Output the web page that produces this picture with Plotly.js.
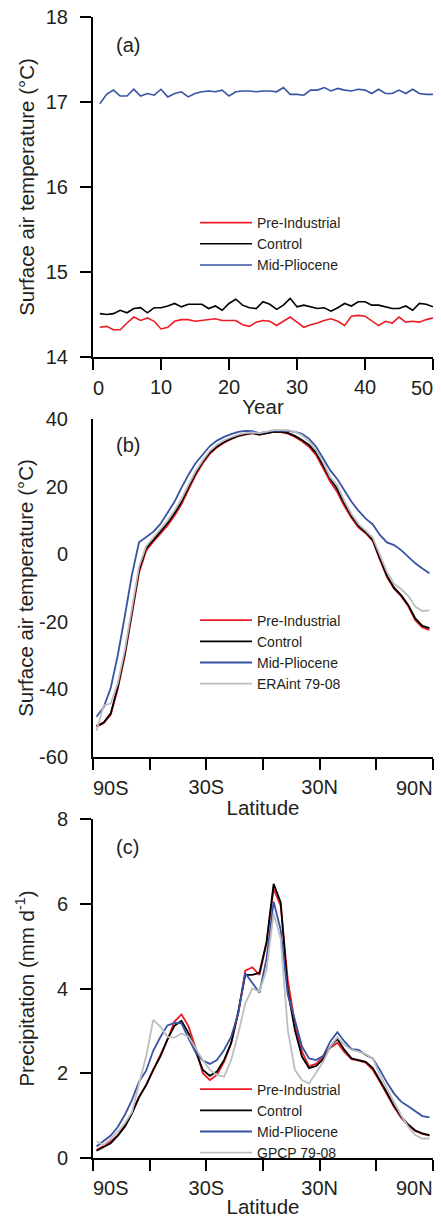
<!DOCTYPE html>
<html><head><meta charset="utf-8">
<script src="https://cdn.plot.ly/plotly-3.0.1.min.js"></script>
<style>html,body{margin:0;padding:0;background:#fff}</style>
</head><body><div id="chart" style="width:441px;height:1218px"></div>
<script>
// ---------- Panel (a): global mean surface air temperature time series ----------
const years = [1,2,3,4,5,6,7,8,9,10,11,12,13,14,15,16,17,18,19,20,21,22,23,24,25,26,27,28,29,30,31,32,33,34,35,36,37,38,39,40,41,42,43,44,45,46,47,48,49,50];
const tsPreIndustrial = [14.35,14.36,14.32,14.32,14.40,14.47,14.43,14.46,14.42,14.33,14.35,14.42,14.44,14.44,14.42,14.43,14.44,14.45,14.43,14.43,14.43,14.38,14.36,14.41,14.43,14.42,14.37,14.42,14.47,14.41,14.35,14.38,14.40,14.43,14.45,14.42,14.37,14.48,14.49,14.48,14.42,14.37,14.42,14.40,14.47,14.41,14.42,14.41,14.44,14.46];
const tsControl = [14.51,14.50,14.51,14.55,14.52,14.57,14.58,14.52,14.58,14.58,14.60,14.63,14.59,14.62,14.62,14.62,14.57,14.60,14.55,14.63,14.68,14.61,14.58,14.57,14.65,14.62,14.56,14.61,14.69,14.59,14.61,14.59,14.57,14.58,14.54,14.58,14.63,14.60,14.65,14.65,14.61,14.61,14.59,14.57,14.57,14.60,14.55,14.63,14.62,14.59];
const tsMidPliocene = [16.98,17.09,17.14,17.07,17.07,17.15,17.07,17.10,17.08,17.15,17.06,17.10,17.12,17.06,17.10,17.12,17.13,17.12,17.14,17.07,17.12,17.13,17.13,17.12,17.13,17.13,17.12,17.17,17.09,17.09,17.08,17.14,17.14,17.17,17.13,17.16,17.14,17.13,17.15,17.14,17.10,17.15,17.10,17.10,17.14,17.10,17.15,17.10,17.09,17.09];

// ---------- Panels (b) and (c): zonal means ----------
const latitudes = [-88.125,-84.375,-80.625,-76.875,-73.125,-69.375,-65.625,-61.875,-58.125,-54.375,-50.625,-46.875,-43.125,-39.375,-35.625,-31.875,-28.125,-24.375,-20.625,-16.875,-13.125,-9.375,-5.625,-1.875,1.875,5.625,9.375,13.125,16.875,20.625,24.375,28.125,31.875,35.625,39.375,43.125,46.875,50.625,54.375,58.125,61.875,65.625,69.375,73.125,76.875,80.625,84.375,88.125];

const tasPreIndustrial = [-51.0,-50.0,-47.5,-39.8,-30.0,-18.3,-5.5,1.0,3.7,6.0,8.4,11.4,14.8,19.2,23.4,26.9,29.7,31.6,33.0,34.0,34.9,35.4,35.8,35.4,35.9,36.2,36.1,35.7,34.7,33.4,31.8,29.3,25.4,21.4,18.3,14.2,10.7,7.9,6.2,3.9,-1.6,-6.8,-10.2,-12.4,-15.4,-19.5,-21.7,-22.4];
const tasControl = [-50.8,-49.8,-47.1,-39.2,-29.3,-17.5,-4.7,1.7,4.2,6.7,9.1,12.1,15.5,19.9,24.0,27.4,30.1,31.9,33.2,34.2,35.0,35.5,35.8,35.4,35.9,36.2,36.2,35.9,35.0,33.8,32.3,30.0,26.2,22.3,19.2,15.0,11.3,8.3,6.5,4.2,-1.2,-6.4,-9.9,-12.1,-15.0,-19.0,-21.2,-21.9];
const tasMidPliocene = [-48.1,-45.3,-39.6,-29.9,-18.2,-6.0,3.5,5.0,6.6,8.9,12.3,15.5,19.7,23.6,27.0,29.6,32.0,33.6,34.7,35.5,36.2,36.5,36.4,35.8,36.2,36.5,36.5,36.5,36.2,35.6,34.2,31.8,28.3,24.8,22.2,18.9,15.5,12.8,10.5,8.8,5.7,3.5,2.7,1.2,-0.7,-2.7,-4.2,-5.6];
const tasERAint = [-52.2,-44.8,-44.1,-38.2,-28.3,-16.5,-3.7,2.4,5.0,7.4,9.9,12.9,16.4,20.6,24.6,27.8,30.6,32.4,33.7,34.6,35.4,35.8,36.0,35.8,36.3,36.7,36.8,36.7,36.2,35.2,33.4,30.8,27.1,22.8,20.3,15.7,11.9,8.9,7.0,4.9,-0.2,-5.2,-8.8,-10.3,-12.3,-15.5,-16.8,-16.6];

const prPreIndustrial = [0.19,0.29,0.39,0.53,0.77,1.07,1.45,1.72,2.09,2.43,2.78,3.22,3.39,3.10,2.59,2.00,1.84,1.96,2.27,2.71,3.41,4.42,4.50,4.32,5.07,6.35,5.95,4.20,3.18,2.51,2.16,2.22,2.39,2.60,2.72,2.50,2.33,2.30,2.25,2.08,1.80,1.50,1.20,0.95,0.77,0.64,0.57,0.53];
const prControl = [0.17,0.27,0.35,0.53,0.74,1.05,1.43,1.72,2.08,2.39,2.80,3.12,3.24,2.94,2.53,2.08,1.94,2.04,2.31,2.71,3.45,4.32,4.32,4.37,5.10,6.47,6.03,3.96,3.02,2.39,2.12,2.17,2.33,2.63,2.81,2.55,2.35,2.31,2.27,2.12,1.84,1.54,1.23,0.98,0.79,0.65,0.58,0.54];
const prMidPliocene = [0.27,0.39,0.53,0.73,1.02,1.37,1.80,2.06,2.53,2.85,3.13,3.19,3.18,2.82,2.49,2.30,2.22,2.31,2.55,2.86,3.41,4.36,4.12,3.90,4.71,6.05,5.38,3.85,3.26,2.63,2.35,2.31,2.41,2.75,2.97,2.75,2.57,2.55,2.43,2.35,2.08,1.78,1.52,1.33,1.22,1.10,0.99,0.96];
const prGPCP = [0.39,0.31,0.45,0.62,0.82,1.08,1.75,2.40,3.26,3.10,2.86,2.84,2.94,2.86,2.59,2.31,2.08,1.96,1.92,2.31,2.94,3.65,4.00,3.93,4.44,5.77,5.18,3.02,2.08,1.84,1.76,2.00,2.27,2.63,2.85,2.67,2.55,2.51,2.45,2.35,1.96,1.64,1.33,1.01,0.74,0.54,0.46,0.46];

// ---------- Tick definitions ----------
const yearRange = [0,50];
const yearInnerTicks = [10,20,30,40];
const yearEdgeLabels = ['0','50'];
const tempTicksA = [14,15,16,17,18];
const latRange = [-90,90];
const latLabelVals = [-30,30];
const latLabelText = ['30S','30N'];
const latMinorTicks = [-90,-60,0,60,90];
const latEdgeLabels = ['90S','90N'];
const tempLabelsB = [-60,-40,-20,0,20,40];
const tempMarksB = [-60,-35,-10,15,40];
const precipTicks = [0,2,4,6,8];

const FONT = 'Liberation Sans, Arial, Helvetica, sans-serif';
const TXT = '#231f20';
const COL = {pi:'#ed1c24', ctl:'#000000', mp:'#3953a4', obs:'#bcbec0'};
const tickFont = {family:FONT, size:20, color:TXT};
const minorStyle = {ticks:'outside', ticklen:11, tickwidth:2, tickcolor:'#000', showgrid:false};

function ax(extra){
  return Object.assign({
    showline:true, linecolor:'#000', linewidth:2, mirror:false,
    ticks:'outside', ticklen:11, tickwidth:2, tickcolor:'#000',
    showgrid:false, zeroline:false, fixedrange:true,
    tickfont:tickFont
  }, extra);
}
function ln(x, y, name, color, xa, ya, leg, w){
  return {x:x, y:y, name:name, type:'scatter', mode:'lines', xaxis:xa, yaxis:ya,
    legend:leg, line:{color:color, width:w}, hoverinfo:'skip'};
}
function edgeLabel(text, xa, xval, anchor, yshift){
  return {text:text, xref:xa, yref:xa.replace('x','y') + ' domain', x:xval, y:0,
    xanchor:anchor, yanchor:'middle', yshift:yshift, showarrow:false, borderpad:0, borderwidth:0,
    font:tickFont};
}

const traces = [
  ln(years, tsPreIndustrial, 'Pre-Industrial', COL.pi, 'x', 'y', 'legend', 1.6),
  ln(years, tsControl, 'Control', COL.ctl, 'x', 'y', 'legend', 1.6),
  ln(years, tsMidPliocene, 'Mid-Pliocene', COL.mp, 'x', 'y', 'legend', 1.6),

  ln(latitudes, tasPreIndustrial, 'Pre-Industrial', COL.pi, 'x2', 'y2', 'legend2', 1.8),
  ln(latitudes, tasControl, 'Control', COL.ctl, 'x2', 'y2', 'legend2', 1.8),
  ln(latitudes, tasMidPliocene, 'Mid-Pliocene', COL.mp, 'x2', 'y2', 'legend2', 1.8),
  ln(latitudes, tasERAint, 'ERAint 79-08', COL.obs, 'x2', 'y2', 'legend2', 1.8),

  ln(latitudes, prPreIndustrial, 'Pre-Industrial', COL.pi, 'x3', 'y3', 'legend3', 1.8),
  ln(latitudes, prControl, 'Control', COL.ctl, 'x3', 'y3', 'legend3', 1.8),
  ln(latitudes, prMidPliocene, 'Mid-Pliocene', COL.mp, 'x3', 'y3', 'legend3', 1.8),
  ln(latitudes, prGPCP, 'GPCP 79-08', COL.obs, 'x3', 'y3', 'legend3', 1.8)
];

const H = 1218;
const dom = (top, bottom) => [(H - bottom) / H, (H - top) / H];
const titleFont = {family:FONT, size:20.5, color:TXT};
const legFont = {family:FONT, size:14, color:TXT};
const legBase = {font:legFont, bgcolor:'rgba(0,0,0,0)', borderwidth:0, itemwidth:52,
  xanchor:'left', yanchor:'top', tracegroupgap:0};
const panelFont = {family:FONT, size:20, color:TXT};

const layout = {
  width:441, height:1218,
  margin:{l:93, r:8, t:0, b:0},
  paper_bgcolor:'#fff', plot_bgcolor:'rgba(0,0,0,0)',
  font:{family:FONT, color:TXT},
  xaxis: ax({domain:[0,1], anchor:'y', range:yearRange, tickmode:'array', tickvals:yearInnerTicks,
    minor:Object.assign({tickmode:'array', tickvals:yearRange}, minorStyle),
    title:{text:'Year', font:titleFont, standoff:3}}),
  yaxis: ax({domain:dom(17,357), anchor:'x', range:[14,18], tickmode:'array', tickvals:tempTicksA,
    ticklabelstandoff:8,
    title:{text:'Surface air temperature (°C)', font:titleFont, standoff:6}}),
  xaxis2: ax({domain:[0,1], anchor:'y2', range:latRange, tickmode:'array', tickvals:latLabelVals, ticktext:latLabelText,
    minor:Object.assign({tickmode:'array', tickvals:latMinorTicks}, minorStyle),
    title:{text:'Latitude', font:titleFont, standoff:4}}),
  yaxis2: ax({domain:dom(419,757), anchor:'x2', range:[-60,40], tickmode:'array', tickvals:tempLabelsB,
    ticktext:tempLabelsB.map(String), tickcolor:'rgba(0,0,0,0)', ticklabelstandoff:8,
    title:{text:'Surface air temperature (°C)', font:titleFont, standoff:0}}),
  yaxis4: ax({overlaying:'y2', anchor:'x2', range:[-60,40], tickmode:'array', tickvals:tempMarksB,
    showticklabels:false, showline:false}),
  xaxis3: ax({domain:[0,1], anchor:'y3', range:latRange, tickmode:'array', tickvals:latLabelVals, ticktext:latLabelText,
    minor:Object.assign({tickmode:'array', tickvals:latMinorTicks}, minorStyle),
    title:{text:'Latitude', font:titleFont, standoff:4}}),
  yaxis3: ax({domain:dom(819,1158), anchor:'x3', range:[0,8], tickmode:'array', tickvals:precipTicks,
    ticklabelstandoff:8,
    title:{text:'Precipitation (mm d<sup>-1</sup>)', font:titleFont, standoff:17}}),
  legend: Object.assign({x:0.30, y:1 - 207/H}, legBase),
  legend2: Object.assign({x:0.30, y:1 - 604.5/H}, legBase),
  legend3: Object.assign({x:0.30, y:1 - 1073.5/H}, legBase),
  showlegend:true,
  annotations:[
    {text:'(a)', xref:'x domain', yref:'y domain', x:0.062, y:1 - 28/340, xanchor:'left', yanchor:'middle', showarrow:false, font:panelFont},
    {text:'(b)', xref:'x2 domain', yref:'y2 domain', x:0.062, y:1 - 26/338, xanchor:'left', yanchor:'middle', showarrow:false, font:panelFont},
    {text:'(c)', xref:'x3 domain', yref:'y3 domain', x:0.062, y:1 - 28/339, xanchor:'left', yanchor:'middle', showarrow:false, font:panelFont},
    edgeLabel(yearEdgeLabels[0], 'x', yearRange[0], 'left', -31),
    edgeLabel(yearEdgeLabels[1], 'x', yearRange[1], 'right', -31),
    edgeLabel(latEdgeLabels[0], 'x2', latRange[0], 'left', -31),
    edgeLabel(latEdgeLabels[1], 'x2', latRange[1], 'right', -31),
    edgeLabel(latEdgeLabels[0], 'x3', latRange[0], 'left', -30),
    edgeLabel(latEdgeLabels[1], 'x3', latRange[1], 'right', -30)
  ]
};

Plotly.newPlot('chart', traces, layout, {displayModeBar:false, staticPlot:true});
</script>
</body></html>
